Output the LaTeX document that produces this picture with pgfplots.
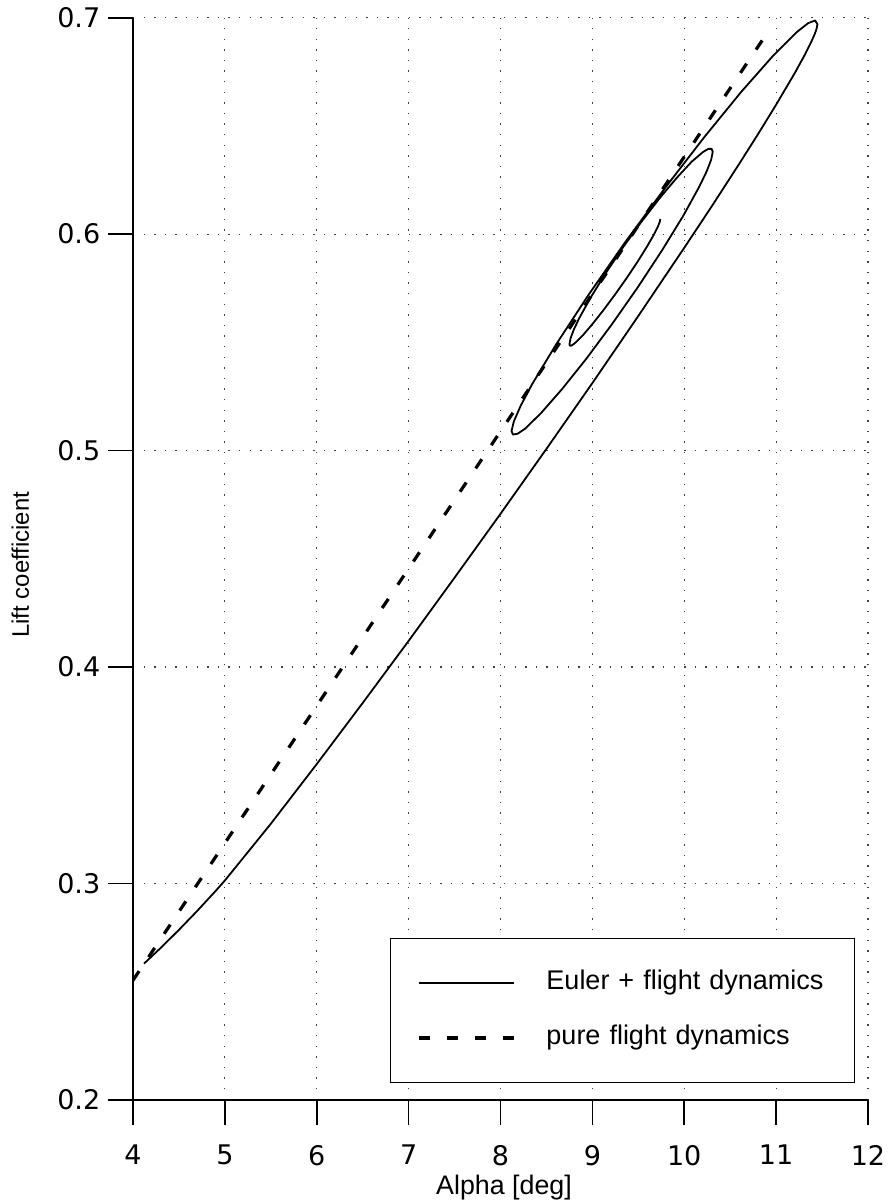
\documentclass[border=0pt]{standalone}
\usepackage{fontspec}
\setmainfont{Liberation Sans}
\newfontfamily\tickfont{DejaVu Sans}
\usepackage{pgfplots}
\pgfplotsset{compat=1.18}
\begin{document}
\begin{tikzpicture}
\begin{axis}[
  scale only axis, width=367.5pt, height=541.15pt,
  xmin=4, xmax=12, ymin=0.2, ymax=0.7,
  xtick={4,5,6,7,8,9,10,11,12},
  xticklabels={4,5,6,7,8,9,10,11,12},
  ytick={0.2,0.3,0.4,0.5,0.6,0.7},
  yticklabels={0.2,0.3,0.4,0.5,0.6,0.7},
  axis x line*=bottom, axis y line*=left,
  axis line style={line width=0.85pt, black},
  tick align=outside, major tick length=12.5pt,
  every tick/.style={black, line width=0.85pt},
  grid=major,
  major grid style={black!75, line width=0.6pt, dash pattern=on 0.7pt off 4.6pt},
  ticklabel style={font=\tickfont\fontsize{13.5}{16}\selectfont, inner sep=0pt},
  yticklabel style={xshift=-3.7pt},
  xticklabel style={yshift=-9.8pt},
  xlabel={Alpha [deg]},
  xlabel style={font=\fontsize{13.4}{16}\selectfont, inner sep=0pt, at={(axis description cs:0.5,0)}, anchor=base, yshift=-47pt, xshift=1.75pt},
  ylabel={Lift coefficient},
  ylabel style={font=\fontsize{11.95}{14}\selectfont, inner sep=0pt, at={([xshift=-52pt,yshift=-3pt]axis description cs:0,0.5)}, anchor=base},
  legend style={at={(rel axis cs:0.9823,0.0157)}, anchor=south east, draw=black, line width=0.5pt, fill=white,
    inner xsep=13.5pt, inner ysep=16pt, row sep=14.9pt, column sep=15.5pt,
    font=\fontsize{13.5}{16}\selectfont,
    nodes={inner sep=0pt, text height=9.7pt, text depth=2.9pt, text width=140.5pt, align=left}},
  legend cell align=left,
  legend image code/.code={\draw[#1, line cap=butt] (0pt,0pt) -- (47.5pt,0pt);},
]
\coordinate (bbsw) at (rel axis cs:0,0);
\coordinate (bbne) at (rel axis cs:1,1);
\addplot[black, line width=0.9pt, line join=round] coordinates {
(4.12,0.2630) (4.30,0.2702) (4.50,0.2786) (4.70,0.2874) (4.90,0.2966) (5.00,0.3014)
(5.50,0.3276) (6.00,0.3552) (6.50,0.3834) (7.00,0.4121) (7.50,0.4413)
(8.00,0.4708) (8.50,0.5008) (9.00,0.5312) (9.50,0.5622) (10.00,0.5937)
(10.30,0.6129) (10.60,0.6326) (10.80,0.6460) (11.00,0.6598) (11.20,0.6742)
(11.30,0.6819) (11.38,0.6886) (11.42,0.6924) (11.44,0.6948) (11.45,0.6970)
(11.4247,0.6987) (11.3494,0.6975) (11.2269,0.6934) (10.9625,0.6822) (10.6175,0.6656)
(10.2159,0.6447) (9.7850,0.6210) (9.3541,0.5961) (8.9525,0.5716) (8.6075,0.5492)
(8.3431,0.5306) (8.2206,0.5208) (8.1453,0.5135) (8.1200,0.5090)
(8.1366,0.5074) (8.1861,0.5078) (8.2667,0.5101) (8.4406,0.5173) (8.6675,0.5283)
(8.9316,0.5423) (9.2150,0.5585) (9.4984,0.5757) (9.7625,0.5928) (9.9894,0.6085)
(10.1633,0.6219) (10.2439,0.6290) (10.2933,0.6344) (10.3100,0.6380)
(10.2981,0.6394) (10.2629,0.6394) (10.2055,0.6380) (10.0816,0.6335) (9.9200,0.6261)
(9.7319,0.6166) (9.5300,0.6055) (9.3281,0.5936) (9.1400,0.5816) (8.9784,0.5705)
(8.8545,0.5610) (8.7971,0.5558) (8.7619,0.5518) (8.7500,0.5490)
(8.7575,0.5484) (8.7799,0.5487) (8.8163,0.5499) (8.8949,0.5532) (8.9975,0.5583)
(9.1169,0.5647) (9.2450,0.5720) (9.3731,0.5797) (9.4925,0.5873) (9.5951,0.5943)
(9.6737,0.6001) (9.7101,0.6032) (9.7325,0.6055) (9.7400,0.6070)
};
\addlegendentry{Euler + flight dynamics}
\addplot[black, line width=1.6pt, dash pattern=on 5.5pt off 8.5pt] coordinates {
(4.00,0.2553) (5.00,0.3187) (6.00,0.3821) (7.00,0.4455) (8.00,0.5089)
(9.00,0.5723) (10.00,0.6357) (10.91,0.6934)
};
\addlegendentry{pure flight dynamics}
\end{axis}
\pgfresetboundingbox
\path[use as bounding box] ([xshift=-66.5pt,yshift=-51.5pt]bbsw) rectangle ([xshift=13.5pt,yshift=8.85pt]bbne);
\end{tikzpicture}
\end{document}
